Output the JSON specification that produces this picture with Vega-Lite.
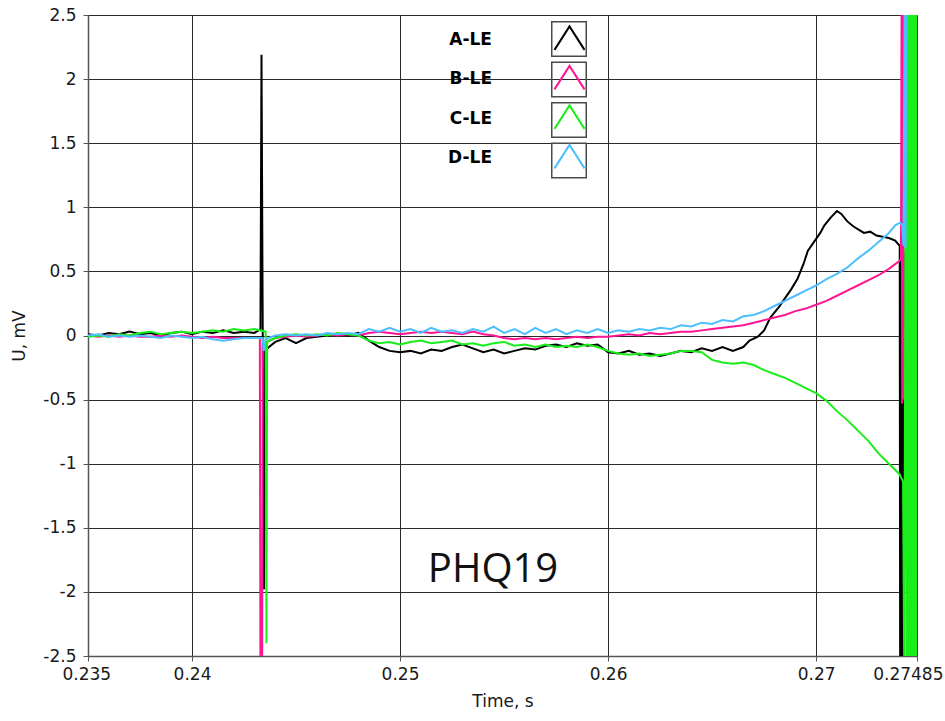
{
"$schema": "https://vega.github.io/schema/vega-lite/v6.json",
"width": 829, "height": 641,
"autosize": "none",
"padding": {"left": 88, "top": 15, "right": 28, "bottom": 65},
"background": "white",
"config": {"view": {"stroke": null}, "font": "DejaVu Sans"},
"data": {"values": [
{"s":"A-LE","t":0.2350,"u":0.01},{"s":"A-LE","t":0.2355,"u":0.00},{"s":"A-LE","t":0.2360,"u":0.02},{"s":"A-LE","t":0.2365,"u":0.01},{"s":"A-LE","t":0.2370,"u":0.03},{"s":"A-LE","t":0.2375,"u":0.01},{"s":"A-LE","t":0.2380,"u":0.02},{"s":"A-LE","t":0.2385,"u":0.00},{"s":"A-LE","t":0.2390,"u":0.02},{"s":"A-LE","t":0.2395,"u":0.03},{"s":"A-LE","t":0.2400,"u":0.01},{"s":"A-LE","t":0.2405,"u":0.03},{"s":"A-LE","t":0.2410,"u":0.02},{"s":"A-LE","t":0.2415,"u":0.04},{"s":"A-LE","t":0.2420,"u":0.02},{"s":"A-LE","t":0.2425,"u":0.03},{"s":"A-LE","t":0.2430,"u":0.02},{"s":"A-LE","t":0.24329,"u":0.05},{"s":"A-LE","t":0.24334,"u":2.19},{"s":"A-LE","t":0.24340,"u":0.0},{"s":"A-LE","t":0.24346,"u":-1.98},{"s":"A-LE","t":0.24351,"u":-0.12},{"s":"A-LE","t":0.2437,"u":-0.09},{"s":"A-LE","t":0.2440,"u":-0.05},{"s":"A-LE","t":0.2445,"u":-0.02},{"s":"A-LE","t":0.2450,"u":-0.06},{"s":"A-LE","t":0.2455,"u":-0.02},{"s":"A-LE","t":0.2460,"u":-0.01},{"s":"A-LE","t":0.2465,"u":0.0},{"s":"A-LE","t":0.2470,"u":0.01},{"s":"A-LE","t":0.2475,"u":0.0},{"s":"A-LE","t":0.2480,"u":0.02},{"s":"A-LE","t":0.2485,"u":-0.04},{"s":"A-LE","t":0.2490,"u":-0.09},{"s":"A-LE","t":0.2495,"u":-0.12},{"s":"A-LE","t":0.2500,"u":-0.13},{"s":"A-LE","t":0.2505,"u":-0.12},{"s":"A-LE","t":0.2510,"u":-0.14},{"s":"A-LE","t":0.2515,"u":-0.11},{"s":"A-LE","t":0.2520,"u":-0.12},{"s":"A-LE","t":0.2525,"u":-0.09},{"s":"A-LE","t":0.2530,"u":-0.07},{"s":"A-LE","t":0.2535,"u":-0.10},{"s":"A-LE","t":0.2540,"u":-0.13},{"s":"A-LE","t":0.2545,"u":-0.11},{"s":"A-LE","t":0.2550,"u":-0.14},{"s":"A-LE","t":0.2555,"u":-0.12},{"s":"A-LE","t":0.2560,"u":-0.10},{"s":"A-LE","t":0.2565,"u":-0.11},{"s":"A-LE","t":0.2570,"u":-0.08},{"s":"A-LE","t":0.2575,"u":-0.07},{"s":"A-LE","t":0.2580,"u":-0.09},{"s":"A-LE","t":0.2585,"u":-0.06},{"s":"A-LE","t":0.2590,"u":-0.08},{"s":"A-LE","t":0.2595,"u":-0.07},{"s":"A-LE","t":0.2600,"u":-0.13},{"s":"A-LE","t":0.2605,"u":-0.14},{"s":"A-LE","t":0.2610,"u":-0.12},{"s":"A-LE","t":0.2615,"u":-0.15},{"s":"A-LE","t":0.2620,"u":-0.14},{"s":"A-LE","t":0.2625,"u":-0.16},{"s":"A-LE","t":0.2630,"u":-0.14},{"s":"A-LE","t":0.2635,"u":-0.12},{"s":"A-LE","t":0.2640,"u":-0.13},{"s":"A-LE","t":0.2645,"u":-0.10},{"s":"A-LE","t":0.2650,"u":-0.12},{"s":"A-LE","t":0.2655,"u":-0.09},{"s":"A-LE","t":0.2660,"u":-0.12},{"s":"A-LE","t":0.2665,"u":-0.09},{"s":"A-LE","t":0.2668,"u":-0.04},{"s":"A-LE","t":0.2672,"u":-0.01},{"s":"A-LE","t":0.2675,"u":0.04},{"s":"A-LE","t":0.2678,"u":0.14},{"s":"A-LE","t":0.2682,"u":0.22},{"s":"A-LE","t":0.2685,"u":0.29},{"s":"A-LE","t":0.2688,"u":0.36},{"s":"A-LE","t":0.2691,"u":0.44},{"s":"A-LE","t":0.2694,"u":0.56},{"s":"A-LE","t":0.2696,"u":0.66},{"s":"A-LE","t":0.2699,"u":0.73},{"s":"A-LE","t":0.2702,"u":0.80},{"s":"A-LE","t":0.2704,"u":0.86},{"s":"A-LE","t":0.2707,"u":0.92},{"s":"A-LE","t":0.2710,"u":0.97},{"s":"A-LE","t":0.2712,"u":0.95},{"s":"A-LE","t":0.2715,"u":0.89},{"s":"A-LE","t":0.2718,"u":0.85},{"s":"A-LE","t":0.2720,"u":0.83},{"s":"A-LE","t":0.2723,"u":0.80},{"s":"A-LE","t":0.2726,"u":0.81},{"s":"A-LE","t":0.2729,"u":0.78},{"s":"A-LE","t":0.2732,"u":0.77},{"s":"A-LE","t":0.2735,"u":0.76},{"s":"A-LE","t":0.2738,"u":0.74},{"s":"A-LE","t":0.27402,"u":0.70},{"s":"A-LE","t":0.27404,"u":-2.7},{"s":"A-LE","t":0.27407,"u":0.6},{"s":"A-LE","t":0.27410,"u":-2.7},{"s":"A-LE","t":0.27414,"u":0.55},{"s":"A-LE","t":0.27418,"u":-2.7},{"s":"A-LE","t":0.27422,"u":0.65},{"s":"A-LE","t":0.27426,"u":0.08},{"s":"A-LE","t":0.27430,"u":0.62},{"s":"A-LE","t":0.27434,"u":0.10},{"s":"A-LE","t":0.27438,"u":0.6},{"s":"A-LE","t":0.27442,"u":0.1},{"s":"A-LE","t":0.27446,"u":-2.7},
{"s":"B-LE","t":0.2350,"u":0.00},{"s":"B-LE","t":0.2355,"u":-0.01},{"s":"B-LE","t":0.2360,"u":0.00},{"s":"B-LE","t":0.2365,"u":-0.01},{"s":"B-LE","t":0.2370,"u":0.00},{"s":"B-LE","t":0.2375,"u":-0.01},{"s":"B-LE","t":0.2380,"u":-0.01},{"s":"B-LE","t":0.2385,"u":0.00},{"s":"B-LE","t":0.2390,"u":-0.01},{"s":"B-LE","t":0.2395,"u":0.00},{"s":"B-LE","t":0.2400,"u":-0.01},{"s":"B-LE","t":0.2405,"u":-0.02},{"s":"B-LE","t":0.2410,"u":-0.01},{"s":"B-LE","t":0.2415,"u":-0.02},{"s":"B-LE","t":0.2420,"u":-0.02},{"s":"B-LE","t":0.2425,"u":-0.02},{"s":"B-LE","t":0.2430,"u":-0.02},{"s":"B-LE","t":0.24326,"u":-0.02},{"s":"B-LE","t":0.24329,"u":-2.7},{"s":"B-LE","t":0.24337,"u":-2.7},{"s":"B-LE","t":0.24340,"u":-0.08},{"s":"B-LE","t":0.2436,"u":-0.05},{"s":"B-LE","t":0.2440,"u":-0.02},{"s":"B-LE","t":0.2445,"u":-0.01},{"s":"B-LE","t":0.2450,"u":0.00},{"s":"B-LE","t":0.2455,"u":-0.01},{"s":"B-LE","t":0.2460,"u":0.00},{"s":"B-LE","t":0.2465,"u":0.01},{"s":"B-LE","t":0.2470,"u":0.00},{"s":"B-LE","t":0.2475,"u":0.01},{"s":"B-LE","t":0.2480,"u":0.00},{"s":"B-LE","t":0.2485,"u":0.02},{"s":"B-LE","t":0.2490,"u":0.03},{"s":"B-LE","t":0.2495,"u":0.02},{"s":"B-LE","t":0.2500,"u":0.01},{"s":"B-LE","t":0.2505,"u":0.02},{"s":"B-LE","t":0.2510,"u":0.03},{"s":"B-LE","t":0.2515,"u":0.02},{"s":"B-LE","t":0.2520,"u":0.03},{"s":"B-LE","t":0.2525,"u":0.02},{"s":"B-LE","t":0.2530,"u":0.01},{"s":"B-LE","t":0.2535,"u":0.03},{"s":"B-LE","t":0.2540,"u":0.01},{"s":"B-LE","t":0.2545,"u":0.00},{"s":"B-LE","t":0.2550,"u":-0.02},{"s":"B-LE","t":0.2555,"u":-0.03},{"s":"B-LE","t":0.2560,"u":-0.02},{"s":"B-LE","t":0.2565,"u":-0.03},{"s":"B-LE","t":0.2570,"u":-0.02},{"s":"B-LE","t":0.2575,"u":-0.03},{"s":"B-LE","t":0.2580,"u":-0.02},{"s":"B-LE","t":0.2585,"u":-0.01},{"s":"B-LE","t":0.2590,"u":-0.02},{"s":"B-LE","t":0.2595,"u":-0.01},{"s":"B-LE","t":0.2600,"u":-0.01},{"s":"B-LE","t":0.2605,"u":0.00},{"s":"B-LE","t":0.2610,"u":0.01},{"s":"B-LE","t":0.2615,"u":0.00},{"s":"B-LE","t":0.2620,"u":0.02},{"s":"B-LE","t":0.2625,"u":0.01},{"s":"B-LE","t":0.2630,"u":0.02},{"s":"B-LE","t":0.2635,"u":0.03},{"s":"B-LE","t":0.2640,"u":0.03},{"s":"B-LE","t":0.2645,"u":0.04},{"s":"B-LE","t":0.2650,"u":0.05},{"s":"B-LE","t":0.2655,"u":0.06},{"s":"B-LE","t":0.2660,"u":0.07},{"s":"B-LE","t":0.2665,"u":0.08},{"s":"B-LE","t":0.2670,"u":0.10},{"s":"B-LE","t":0.2675,"u":0.12},{"s":"B-LE","t":0.2680,"u":0.14},{"s":"B-LE","t":0.2685,"u":0.16},{"s":"B-LE","t":0.2690,"u":0.19},{"s":"B-LE","t":0.2695,"u":0.21},{"s":"B-LE","t":0.2700,"u":0.24},{"s":"B-LE","t":0.2705,"u":0.27},{"s":"B-LE","t":0.2710,"u":0.31},{"s":"B-LE","t":0.2715,"u":0.35},{"s":"B-LE","t":0.2720,"u":0.39},{"s":"B-LE","t":0.2725,"u":0.43},{"s":"B-LE","t":0.2730,"u":0.47},{"s":"B-LE","t":0.2735,"u":0.52},{"s":"B-LE","t":0.2740,"u":0.58},{"s":"B-LE","t":0.27408,"u":0.60},{"s":"B-LE","t":0.27411,"u":2.7},{"s":"B-LE","t":0.27414,"u":-0.53},{"s":"B-LE","t":0.27417,"u":2.7},{"s":"B-LE","t":0.27420,"u":-0.5},{"s":"B-LE","t":0.27423,"u":2.7},
{"s":"C-LE","t":0.2350,"u":-0.01},{"s":"C-LE","t":0.2355,"u":0.00},{"s":"C-LE","t":0.2360,"u":-0.01},{"s":"C-LE","t":0.2365,"u":0.01},{"s":"C-LE","t":0.2370,"u":0.00},{"s":"C-LE","t":0.2375,"u":0.02},{"s":"C-LE","t":0.2380,"u":0.03},{"s":"C-LE","t":0.2385,"u":0.01},{"s":"C-LE","t":0.2390,"u":0.02},{"s":"C-LE","t":0.2395,"u":0.03},{"s":"C-LE","t":0.2400,"u":0.02},{"s":"C-LE","t":0.2405,"u":0.03},{"s":"C-LE","t":0.2410,"u":0.04},{"s":"C-LE","t":0.2415,"u":0.03},{"s":"C-LE","t":0.2420,"u":0.05},{"s":"C-LE","t":0.2425,"u":0.04},{"s":"C-LE","t":0.2430,"u":0.05},{"s":"C-LE","t":0.24354,"u":0.03},{"s":"C-LE","t":0.24358,"u":-2.4},{"s":"C-LE","t":0.24361,"u":-0.05},{"s":"C-LE","t":0.2440,"u":-0.02},{"s":"C-LE","t":0.2445,"u":0.00},{"s":"C-LE","t":0.2450,"u":0.01},{"s":"C-LE","t":0.2455,"u":0.00},{"s":"C-LE","t":0.2460,"u":0.01},{"s":"C-LE","t":0.2465,"u":0.00},{"s":"C-LE","t":0.2470,"u":0.02},{"s":"C-LE","t":0.2475,"u":0.01},{"s":"C-LE","t":0.2480,"u":0.00},{"s":"C-LE","t":0.2485,"u":-0.04},{"s":"C-LE","t":0.2490,"u":-0.06},{"s":"C-LE","t":0.2495,"u":-0.05},{"s":"C-LE","t":0.2500,"u":-0.07},{"s":"C-LE","t":0.2505,"u":-0.05},{"s":"C-LE","t":0.2510,"u":-0.04},{"s":"C-LE","t":0.2515,"u":-0.06},{"s":"C-LE","t":0.2520,"u":-0.05},{"s":"C-LE","t":0.2525,"u":-0.04},{"s":"C-LE","t":0.2530,"u":-0.07},{"s":"C-LE","t":0.2535,"u":-0.06},{"s":"C-LE","t":0.2540,"u":-0.08},{"s":"C-LE","t":0.2545,"u":-0.06},{"s":"C-LE","t":0.2550,"u":-0.05},{"s":"C-LE","t":0.2555,"u":-0.08},{"s":"C-LE","t":0.2560,"u":-0.07},{"s":"C-LE","t":0.2565,"u":-0.09},{"s":"C-LE","t":0.2570,"u":-0.07},{"s":"C-LE","t":0.2575,"u":-0.09},{"s":"C-LE","t":0.2580,"u":-0.08},{"s":"C-LE","t":0.2585,"u":-0.09},{"s":"C-LE","t":0.2590,"u":-0.07},{"s":"C-LE","t":0.2595,"u":-0.09},{"s":"C-LE","t":0.2600,"u":-0.12},{"s":"C-LE","t":0.2605,"u":-0.14},{"s":"C-LE","t":0.2610,"u":-0.15},{"s":"C-LE","t":0.2615,"u":-0.14},{"s":"C-LE","t":0.2620,"u":-0.16},{"s":"C-LE","t":0.2625,"u":-0.15},{"s":"C-LE","t":0.2630,"u":-0.14},{"s":"C-LE","t":0.2635,"u":-0.12},{"s":"C-LE","t":0.2640,"u":-0.12},{"s":"C-LE","t":0.2645,"u":-0.13},{"s":"C-LE","t":0.2650,"u":-0.19},{"s":"C-LE","t":0.2655,"u":-0.21},{"s":"C-LE","t":0.2660,"u":-0.22},{"s":"C-LE","t":0.2665,"u":-0.21},{"s":"C-LE","t":0.2670,"u":-0.23},{"s":"C-LE","t":0.2675,"u":-0.27},{"s":"C-LE","t":0.2680,"u":-0.30},{"s":"C-LE","t":0.2685,"u":-0.33},{"s":"C-LE","t":0.2690,"u":-0.37},{"s":"C-LE","t":0.2695,"u":-0.41},{"s":"C-LE","t":0.2700,"u":-0.45},{"s":"C-LE","t":0.2705,"u":-0.51},{"s":"C-LE","t":0.2710,"u":-0.59},{"s":"C-LE","t":0.2715,"u":-0.66},{"s":"C-LE","t":0.2720,"u":-0.74},{"s":"C-LE","t":0.2725,"u":-0.82},{"s":"C-LE","t":0.2730,"u":-0.92},{"s":"C-LE","t":0.2735,"u":-1.0},{"s":"C-LE","t":0.2740,"u":-1.08},{"s":"C-LE","t":0.27418,"u":-1.14},{"s":"C-LE","t":0.27424,"u":-2.7},{"s":"C-LE","t":0.27432,"u":2.7},{"s":"C-LE","t":0.27436,"u":-2.7},{"s":"C-LE","t":0.27440,"u":2.7},{"s":"C-LE","t":0.27444,"u":-2.7},{"s":"C-LE","t":0.27448,"u":2.7},{"s":"C-LE","t":0.27452,"u":-2.7},{"s":"C-LE","t":0.27456,"u":2.7},{"s":"C-LE","t":0.27460,"u":-2.7},{"s":"C-LE","t":0.27464,"u":2.7},{"s":"C-LE","t":0.27468,"u":-2.7},{"s":"C-LE","t":0.27472,"u":2.7},{"s":"C-LE","t":0.27476,"u":-2.7},{"s":"C-LE","t":0.27480,"u":2.7},{"s":"C-LE","t":0.27484,"u":-2.7},
{"s":"D-LE","t":0.2350,"u":0.00},{"s":"D-LE","t":0.2355,"u":0.01},{"s":"D-LE","t":0.2360,"u":-0.01},{"s":"D-LE","t":0.2365,"u":0.00},{"s":"D-LE","t":0.2370,"u":-0.01},{"s":"D-LE","t":0.2375,"u":0.00},{"s":"D-LE","t":0.2380,"u":-0.01},{"s":"D-LE","t":0.2385,"u":-0.02},{"s":"D-LE","t":0.2390,"u":0.00},{"s":"D-LE","t":0.2395,"u":-0.01},{"s":"D-LE","t":0.2400,"u":-0.02},{"s":"D-LE","t":0.2405,"u":-0.01},{"s":"D-LE","t":0.2410,"u":-0.03},{"s":"D-LE","t":0.2415,"u":-0.04},{"s":"D-LE","t":0.2420,"u":-0.03},{"s":"D-LE","t":0.2425,"u":-0.02},{"s":"D-LE","t":0.2430,"u":-0.02},{"s":"D-LE","t":0.24340,"u":-0.02},{"s":"D-LE","t":0.24344,"u":-0.12},{"s":"D-LE","t":0.24354,"u":-0.03},{"s":"D-LE","t":0.2440,"u":0.00},{"s":"D-LE","t":0.2445,"u":0.01},{"s":"D-LE","t":0.2450,"u":0.00},{"s":"D-LE","t":0.2455,"u":0.01},{"s":"D-LE","t":0.2460,"u":0.00},{"s":"D-LE","t":0.2465,"u":0.02},{"s":"D-LE","t":0.2470,"u":0.01},{"s":"D-LE","t":0.2475,"u":0.02},{"s":"D-LE","t":0.2480,"u":0.01},{"s":"D-LE","t":0.2485,"u":0.05},{"s":"D-LE","t":0.2490,"u":0.03},{"s":"D-LE","t":0.2495,"u":0.06},{"s":"D-LE","t":0.2500,"u":0.03},{"s":"D-LE","t":0.2505,"u":0.05},{"s":"D-LE","t":0.2510,"u":0.02},{"s":"D-LE","t":0.2515,"u":0.06},{"s":"D-LE","t":0.2520,"u":0.03},{"s":"D-LE","t":0.2525,"u":0.04},{"s":"D-LE","t":0.2530,"u":0.02},{"s":"D-LE","t":0.2535,"u":0.05},{"s":"D-LE","t":0.2540,"u":0.03},{"s":"D-LE","t":0.2545,"u":0.07},{"s":"D-LE","t":0.2550,"u":0.02},{"s":"D-LE","t":0.2555,"u":0.05},{"s":"D-LE","t":0.2560,"u":0.01},{"s":"D-LE","t":0.2565,"u":0.06},{"s":"D-LE","t":0.2570,"u":0.02},{"s":"D-LE","t":0.2575,"u":0.05},{"s":"D-LE","t":0.2580,"u":0.01},{"s":"D-LE","t":0.2585,"u":0.04},{"s":"D-LE","t":0.2590,"u":0.02},{"s":"D-LE","t":0.2595,"u":0.05},{"s":"D-LE","t":0.2600,"u":0.02},{"s":"D-LE","t":0.2605,"u":0.04},{"s":"D-LE","t":0.2610,"u":0.03},{"s":"D-LE","t":0.2615,"u":0.05},{"s":"D-LE","t":0.2620,"u":0.04},{"s":"D-LE","t":0.2625,"u":0.06},{"s":"D-LE","t":0.2630,"u":0.05},{"s":"D-LE","t":0.2635,"u":0.08},{"s":"D-LE","t":0.2640,"u":0.07},{"s":"D-LE","t":0.2645,"u":0.10},{"s":"D-LE","t":0.2650,"u":0.09},{"s":"D-LE","t":0.2655,"u":0.12},{"s":"D-LE","t":0.2660,"u":0.11},{"s":"D-LE","t":0.2665,"u":0.15},{"s":"D-LE","t":0.2670,"u":0.16},{"s":"D-LE","t":0.2675,"u":0.19},{"s":"D-LE","t":0.2680,"u":0.23},{"s":"D-LE","t":0.2685,"u":0.27},{"s":"D-LE","t":0.2690,"u":0.31},{"s":"D-LE","t":0.2695,"u":0.35},{"s":"D-LE","t":0.2700,"u":0.39},{"s":"D-LE","t":0.2705,"u":0.44},{"s":"D-LE","t":0.2710,"u":0.48},{"s":"D-LE","t":0.2715,"u":0.53},{"s":"D-LE","t":0.2720,"u":0.60},{"s":"D-LE","t":0.2725,"u":0.66},{"s":"D-LE","t":0.2730,"u":0.73},{"s":"D-LE","t":0.2735,"u":0.80},{"s":"D-LE","t":0.2738,"u":0.86},{"s":"D-LE","t":0.27404,"u":0.88},{"s":"D-LE","t":0.27414,"u":0.86},{"s":"D-LE","t":0.27420,"u":0.70},{"s":"D-LE","t":0.27426,"u":2.7},{"s":"D-LE","t":0.27430,"u":0.68},{"s":"D-LE","t":0.27434,"u":2.7}
]},
"layer": [
  {"transform": [{"filter": "datum.t == 0.235"}],
   "mark": {"type": "point", "shape": "square", "filled": false, "opacity": 0},
   "encoding": {
     "x": {"field": "t", "type": "quantitative"},
     "y": {"field": "u", "type": "quantitative"},
     "color": {"field": "s", "type": "nominal",
     "scale": {"range": ["#4a4a4a", "#4a4a4a", "#4a4a4a", "#4a4a4a"]},
     "legend": {"orient": "none", "legendX": 463, "legendY": 6, "title": null, "padding": 0,
       "symbolType": "square", "symbolSize": 1190, "symbolStrokeWidth": 1.5, "rowPadding": -1.5,
       "labelExpr": "''", "labelFontSize": 1,
       "encode": {"symbols": {"update": {"fill": {"value": "white"}, "stroke": {"value": "#4a4a4a"}, "opacity": {"value": 1}, "strokeWidth": {"value": 1.5}}}}}}}},
  {"mark": {"type": "line", "strokeWidth": 2, "clip": true},
   "encoding": {
     "x": {"field": "t", "type": "quantitative",
       "scale": {"domain": [0.235, 0.27485], "nice": false, "zero": false},
       "axis": {"title": "Time, s", "values": [0.235, 0.24, 0.25, 0.26, 0.27, 0.27485],
         "labelExpr": "toString(datum.value)", "labelFlush": true, "labelFlushOffset": 26, "labelOverlap": false,
         "grid": true, "gridColor": "#2a2a2a", "gridWidth": 1, "gridOpacity": 1,
         "domainColor": "#555555", "domainWidth": 1.5, "tickColor": "#555555", "tickSize": 5, "tickWidth": 1,
         "labelFont": "DejaVu Sans", "labelFontSize": 17, "labelColor": "#1a1a1a", "labelPadding": 5,
         "titleFont": "DejaVu Sans", "titleFontSize": 17, "titleFontWeight": "normal", "titleColor": "#1a1a1a", "titlePadding": 11}},
     "y": {"field": "u", "type": "quantitative",
       "scale": {"domain": [-2.5, 2.5], "nice": false, "zero": false},
       "axis": {"title": "U, mV", "values": [-2.5, -2, -1.5, -1, -0.5, 0, 0.5, 1, 1.5, 2, 2.5],
         "labelExpr": "toString(datum.value)", "labelOverlap": false, "labelFlush": false,
         "grid": true, "gridColor": "#2a2a2a", "gridWidth": 1, "gridOpacity": 1,
         "domainColor": "#555555", "domainWidth": 1.5, "tickColor": "#555555", "tickSize": 5, "tickWidth": 1,
         "labelFont": "DejaVu Sans", "labelFontSize": 17, "labelColor": "#1a1a1a", "labelPadding": 7,
         "titleFont": "DejaVu Sans", "titleFontSize": 17, "titleFontWeight": "normal", "titleColor": "#1a1a1a", "titlePadding": 14}},
     "stroke": {"field": "s", "type": "nominal",
     "scale": {"domain": ["A-LE", "B-LE", "C-LE", "D-LE"], "range": ["#000000", "#ff1493", "#1aee1a", "#4cc0ff"]},
     "legend": {"orient": "none", "legendX": 463, "legendY": 6, "title": null, "padding": 0,
       "symbolType": "M-0.87,0.6L0,-0.76L0.87,0.6", "symbolSize": 1190, "symbolStrokeWidth": 2,
       "symbolFillColor": "transparent", "rowPadding": 6.5,
       "labelAlign": "right", "labelOffset": -96, "labelFont": "DejaVu Sans", "labelFontSize": 17,
       "labelFontWeight": "bold", "labelColor": "#000000"}}}},
  {"data": {"values": [{"label": "PHQ19"}]},
   "mark": {"type": "text", "font": "Open Sans", "fontSize": 40, "align": "center", "baseline": "alphabetic", "fill": "#111111", "opacity": 1},
   "encoding": {"x": {"datum": 0.25447, "type": "quantitative"}, "y": {"datum": -1.92, "type": "quantitative"}, "text": {"field": "label", "type": "nominal"}}}
]
}
